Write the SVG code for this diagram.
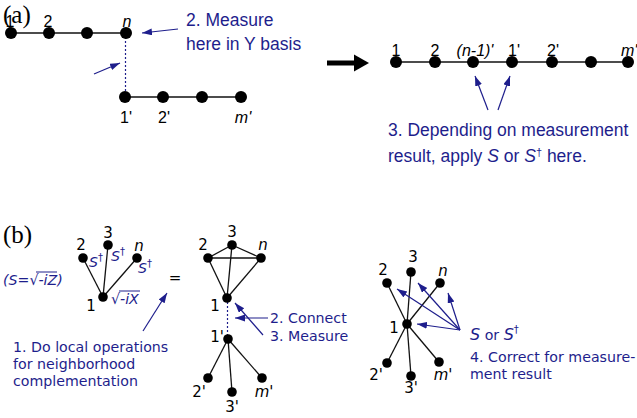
<svg xmlns="http://www.w3.org/2000/svg" width="637" height="418" viewBox="0 0 637 418">
<style>
.e{stroke:#111;stroke-width:1.3;fill:none}
.d{stroke:#1e1e8c;stroke-width:1.2;stroke-dasharray:2,2;fill:none}
.a{stroke:#1e1e8c;stroke-width:1.2;fill:none;marker-end:url(#ah)}
.dot{fill:#000}
.la{font-family:"Liberation Sans",Arial,sans-serif;font-size:16px;fill:#000}
.lb{font-family:"DejaVu Sans",Verdana,sans-serif;font-size:15px;fill:#000}
.ta{font-family:"Liberation Sans",Arial,sans-serif;font-size:17.5px;fill:#1e1e8c}
.tb{font-family:"DejaVu Sans",Verdana,sans-serif;font-size:14.2px;fill:#1e1e8c}
.it{font-style:italic}
.sup{font-size:10px}
.ser{font-family:"Liberation Serif","Times New Roman",serif;font-size:25px;fill:#000}
</style>
<defs>
<marker id="ah" markerUnits="userSpaceOnUse" markerWidth="11" markerHeight="8" refX="10" refY="3.5" orient="auto">
<path d="M0,0 L10,3.5 L0,7 z" fill="#1e1e8c"/>
</marker>
</defs>

<!-- panel labels -->
<text class="ser" x="3" y="22.5">(a)</text>
<text class="ser" x="3" y="242.5">(b)</text>

<!-- connectors -->
<g id="connectors">
<!-- (a) left -->
<line class="e" x1="11" y1="33" x2="126" y2="33"/>
<line class="e" x1="125" y1="97" x2="241" y2="97"/>
<line class="d" x1="125.5" y1="33" x2="125.5" y2="97"/>
<line class="a" x1="178" y1="29" x2="142" y2="33"/>
<line class="a" x1="94" y1="74" x2="120" y2="63"/>
<!-- big arrow -->
<line x1="327" y1="63" x2="356" y2="63" stroke="#000" stroke-width="5"/>
<path d="M354,54.5 L369,63 L354,71.5 z" fill="#000"/>
<!-- (a) right -->
<line class="e" x1="396" y1="62" x2="628" y2="62"/>
<line class="a" x1="488" y1="110" x2="475" y2="76"/>
<line class="a" x1="498" y1="110" x2="510" y2="76"/>
<!-- (b) left -->
<line class="e" x1="83" y1="258" x2="103" y2="297"/>
<line class="e" x1="108" y1="245" x2="103" y2="297"/>
<line class="e" x1="137" y1="258" x2="103" y2="297"/>
<line class="a" x1="143" y1="331" x2="167" y2="293"/>
<!-- (b) middle -->
<line class="e" x1="208" y1="258" x2="232" y2="245"/>
<line class="e" x1="232" y1="245" x2="261" y2="258"/>
<line class="e" x1="208" y1="258" x2="261" y2="258"/>
<line class="e" x1="208" y1="258" x2="227" y2="298"/>
<line class="e" x1="232" y1="245" x2="227" y2="298"/>
<line class="e" x1="261" y1="258" x2="227" y2="298"/>
<line class="d" x1="227.5" y1="298" x2="227.5" y2="339"/>
<line class="e" x1="228" y1="339" x2="208" y2="378"/>
<line class="e" x1="228" y1="339" x2="232" y2="392"/>
<line class="e" x1="228" y1="339" x2="262" y2="378"/>
<line class="a" x1="268" y1="318" x2="235" y2="318"/>
<line class="a" x1="263" y1="335" x2="235" y2="303"/>
<!-- (b) right -->
<line class="e" x1="387" y1="283" x2="407" y2="324"/>
<line class="e" x1="411" y1="272" x2="407" y2="324"/>
<line class="e" x1="440" y1="283" x2="407" y2="324"/>
<line class="e" x1="407" y1="324" x2="387" y2="363"/>
<line class="e" x1="407" y1="324" x2="411" y2="376"/>
<line class="e" x1="407" y1="324" x2="439" y2="362"/>
<line class="a" x1="460" y1="330" x2="397" y2="289"/>
<line class="a" x1="460" y1="330" x2="418" y2="283"/>
<line class="a" x1="460" y1="330" x2="448" y2="293"/>
<line class="a" x1="460" y1="330" x2="417" y2="324"/>
</g>

<!-- (a) left nodes -->
<g id="a-1"><circle class="dot" cx="11" cy="33" r="6"/><text class="la" x="10" y="27" text-anchor="middle">1</text></g>
<g id="a-2"><circle class="dot" cx="49" cy="33" r="6"/><text class="la" x="48" y="27" text-anchor="middle">2</text></g>
<g id="a-3"><circle class="dot" cx="87" cy="33" r="6"/></g>
<g id="a-n"><circle class="dot" cx="126" cy="33" r="6"/><text class="la it" x="127" y="27" text-anchor="middle">n</text></g>
<g id="a-1p"><circle class="dot" cx="125" cy="97" r="6"/><text class="la" x="126" y="123" text-anchor="middle">1'</text></g>
<g id="a-2p"><circle class="dot" cx="163" cy="97" r="6"/><text class="la" x="164" y="123" text-anchor="middle">2'</text></g>
<g id="a-3p"><circle class="dot" cx="202" cy="97" r="6"/></g>
<g id="a-mp"><circle class="dot" cx="241" cy="97" r="6"/><text class="la it" x="243" y="123" text-anchor="middle">m'</text></g>
<g id="a-note2"><text class="ta" x="186" y="26">2. Measure</text><text class="ta" x="186" y="50">here in Y basis</text></g>

<!-- (a) right nodes -->
<g id="r-1"><circle class="dot" cx="396" cy="62" r="6"/><text class="la" x="396" y="56" text-anchor="middle">1</text></g>
<g id="r-2"><circle class="dot" cx="435" cy="62" r="6"/><text class="la" x="435" y="56" text-anchor="middle">2</text></g>
<g id="r-n1"><circle class="dot" cx="473" cy="62" r="6"/><text class="la it" x="475" y="56" text-anchor="middle">(n-1)'</text></g>
<g id="r-1p"><circle class="dot" cx="512" cy="62" r="6"/><text class="la" x="514" y="56" text-anchor="middle">1'</text></g>
<g id="r-2p"><circle class="dot" cx="552" cy="62" r="6"/><text class="la" x="553" y="56" text-anchor="middle">2'</text></g>
<g id="r-3p"><circle class="dot" cx="591" cy="62" r="6"/></g>
<g id="r-mp"><circle class="dot" cx="628" cy="62" r="6"/><text class="la it" x="621" y="56">m'</text></g>
<g id="a-note3"><text class="ta" x="388" y="136">3. Depending on measurement</text><text class="ta" x="388" y="162">result, apply <tspan class="it">S</tspan> or <tspan class="it">S</tspan><tspan font-size="11px" dy="-6">†</tspan><tspan dy="6"> here.</tspan></text></g>

<!-- (b) left -->
<g id="b1-2"><circle class="dot" cx="83" cy="258" r="4.8"/><text class="lb" x="81" y="250" text-anchor="middle">2</text><text class="tb it" x="89" y="267">S<tspan class="sup" dy="-6" font-style="normal">†</tspan></text></g>
<g id="b1-3"><circle class="dot" cx="108" cy="245" r="4.8"/><text class="lb" x="108" y="238" text-anchor="middle">3</text><text class="tb it" x="111" y="261">S<tspan class="sup" dy="-6" font-style="normal">†</tspan></text></g>
<g id="b1-n"><circle class="dot" cx="137" cy="258" r="4.8"/><text class="lb it" x="139" y="251" text-anchor="middle">n</text><text class="tb it" x="138" y="273">S<tspan class="sup" dy="-6" font-style="normal">†</tspan></text></g>
<g id="b1-1"><circle class="dot" cx="103" cy="297" r="4.8"/><text class="lb" x="91" y="311" text-anchor="middle">1</text><text class="tb it" x="111" y="304">√-iX</text><line x1="119" y1="291" x2="140" y2="291" stroke="#1e1e8c" stroke-width="1"/></g>
<g id="b-sdef"><text class="tb it" x="3" y="285">(S=√-iZ)</text><line x1="36" y1="272" x2="57" y2="272" stroke="#1e1e8c" stroke-width="1"/></g>
<text class="lb" x="175" y="283" font-size="17px" text-anchor="middle">=</text>
<g id="b-note1"><text class="tb" x="13" y="352">1. Do local operations</text><text class="tb" x="13" y="369">for neighborhood</text><text class="tb" x="13" y="386">complementation</text></g>

<!-- (b) middle -->
<g id="b2-2"><circle class="dot" cx="208" cy="258" r="4.8"/><text class="lb" x="203" y="250" text-anchor="middle">2</text></g>
<g id="b2-3"><circle class="dot" cx="232" cy="245" r="4.8"/><text class="lb" x="232" y="237" text-anchor="middle">3</text></g>
<g id="b2-n"><circle class="dot" cx="261" cy="258" r="4.8"/><text class="lb it" x="263" y="250" text-anchor="middle">n</text></g>
<g id="b2-1"><circle class="dot" cx="227" cy="298" r="4.8"/><text class="lb" x="215" y="311" text-anchor="middle">1</text></g>
<g id="b2-1p"><circle class="dot" cx="228" cy="339" r="4.8"/><text class="lb" x="217" y="342" text-anchor="middle">1'</text></g>
<g id="b2-2p"><circle class="dot" cx="208" cy="378" r="4.8"/><text class="lb" x="199" y="397" text-anchor="middle">2'</text></g>
<g id="b2-3p"><circle class="dot" cx="232" cy="392" r="4.8"/><text class="lb" x="232" y="412" text-anchor="middle">3'</text></g>
<g id="b2-mp"><circle class="dot" cx="262" cy="378" r="4.8"/><text class="lb it" x="264" y="397" text-anchor="middle">m'</text></g>
<g id="b-note2"><text class="tb" x="270" y="323">2. Connect</text><text class="tb" x="270" y="341">3. Measure</text></g>

<!-- (b) right -->
<g id="b3-2"><circle class="dot" cx="387" cy="283" r="4.8"/><text class="lb" x="383" y="275" text-anchor="middle">2</text></g>
<g id="b3-3"><circle class="dot" cx="411" cy="272" r="4.8"/><text class="lb" x="413" y="262" text-anchor="middle">3</text></g>
<g id="b3-n"><circle class="dot" cx="440" cy="283" r="4.8"/><text class="lb it" x="443" y="276" text-anchor="middle">n</text></g>
<g id="b3-1"><circle class="dot" cx="407" cy="324" r="4.8"/><text class="lb" x="394" y="333" text-anchor="middle">1</text></g>
<g id="b3-2p"><circle class="dot" cx="387" cy="363" r="4.8"/><text class="lb" x="376" y="380" text-anchor="middle">2'</text></g>
<g id="b3-3p"><circle class="dot" cx="411" cy="376" r="4.8"/><text class="lb" x="411" y="393" text-anchor="middle">3'</text></g>
<g id="b3-mp"><circle class="dot" cx="439" cy="362" r="4.8"/><text class="lb it" x="443" y="380" text-anchor="middle">m'</text></g>
<g id="b-note4"><text class="tb" x="470" y="340"><tspan class="it" font-size="16px">S</tspan> or <tspan class="it" font-size="16px">S</tspan><tspan class="sup" font-size="12px" dy="-7">†</tspan></text><text class="tb" x="470" y="362">4. Correct for measure-</text><text class="tb" x="470" y="379">ment result</text></g>
</svg>
